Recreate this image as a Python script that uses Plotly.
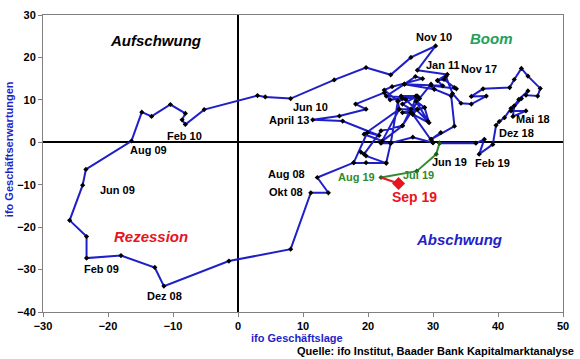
import plotly.graph_objects as go

# ifo Geschäftslage (x) und Geschäftserwartungen (y), Jan 2008 – Sep 2019
lage = [
    31.2, 29.7, 30.0, 26.9, 23.5, 22.8, 17.8, 12.2, 13.9, 11.2, 8.1, -1.4,
    -11.4, -12.8, -18.0, -23.3, -23.3, -25.9, -23.9, -23.4, -16.4, -14.8, -13.3, -10.4,
    -8.1, -8.6, -8.1, -5.2, 3.0, 4.2, 8.1, 14.8, 19.7, 23.5, 26.6, 30.4,
    27.6, 32.2, 30.7, 31.7, 33.3, 33.6, 29.7, 30.2, 32.8, 33.3, 29.7, 30.0,
    26.9, 27.6, 28.7, 26.6, 25.3, 22.0, 19.4, 18.9, 19.7, 22.8, 19.7, 17.8,
    19.9, 21.7, 16.1, 11.5, 15.6, 19.7, 18.1, 22.5, 23.4, 25.3, 27.4, 27.9,
    29.7, 30.2, 25.6, 27.3, 28.4, 23.7, 22.5, 24.6, 24.8, 19.4, 22.2, 25.3,
    26.6, 25.3, 27.6, 25.1, 25.8, 29.2, 27.4, 28.7, 29.4, 26.9, 25.3, 27.6,
    24.8, 22.0, 23.5, 24.6, 27.4, 26.6, 27.9, 22.8, 25.6, 31.5, 30.7, 32.0,
    33.0, 34.3, 35.9, 38.2, 35.9, 37.7, 41.8, 42.5, 43.6, 44.6, 46.5, 46.1,
    44.3, 44.6, 43.2, 42.5, 42.3, 44.3, 42.0, 43.6, 42.0, 41.0, 40.2, 39.7,
    39.2, 37.1, 37.9, 36.6, 31.0, 30.5, 27.5, 22.0, 24.7,
]
erwartungen = [
    2.3, 0.7, -0.1, 1.2, -0.2, -4.9, -4.8, -8.3, -11.9, -11.9, -25.2, -28.0,
    -33.9, -29.5, -26.7, -27.3, -22.2, -18.4, -10.1, -6.4, 0.3, 7.1, 6.1, 8.9,
    6.8, 5.3, 4.2, 7.7, 11.0, 10.7, 10.3, 14.7, 17.6, 15.9, 20.0, 22.7,
    17.0, 16.0, 14.6, 14.8, 12.9, 12.6, 13.4, 12.5, 10.9, 3.8, 0.7, -0.1,
    6.6, 7.8, 8.2, 7.0, 3.9, 2.7, -2.8, -2.3, -3.2, -4.9, -4.8, -4.8,
    2.3, 1.6, 5.0, 5.3, 6.2, 7.8, 9.0, 11.7, 10.0, 10.4, 10.9, 10.3,
    13.7, 12.5, 13.7, 15.5, 15.0, 13.1, 12.3, 9.7, 7.8, 1.9, 0.3, 3.9,
    7.8, 9.0, 10.9, 10.9, 10.1, 5.0, 9.7, 8.2, 4.6, 6.6, 7.0, 7.8,
    7.8, -0.2, -0.2, 9.7, 10.9, 7.0, 10.3, 10.9, 13.7, 13.3, 14.5, 15.5,
    11.5, 9.2, 9.0, 10.9, 10.8, 12.6, 12.9, 14.8, 17.4, 15.6, 12.7, 10.9,
    11.1, 12.1, 10.1, 8.6, 6.1, 7.4, 7.4, 10.3, 8.0, 5.8, 4.9, 4.0,
    -0.5, -2.8, 0.7, -0.2, -0.2, -2.8, -6.8, -8.3, -9.7,
]

x_ticks = [-30, -20, -10, 0, 10, 20, 30, 40, 50]
y_ticks = [-40, -30, -20, -10, 0, 10, 20, 30]

# index of May 2019 (start of green segment) and Aug 2019
i_may19 = len(lage) - 5
i_aug19 = len(lage) - 2

BLUE = "#1f1fc8"
GREEN = "#2e8b2e"
RED = "#e8141e"
FONT = "Arial, Liberation Sans, sans-serif"

fig = go.Figure()
fig.add_trace(go.Scatter(
    x=lage[:i_may19 + 1], y=erwartungen[:i_may19 + 1], mode="lines+markers",
    line=dict(color=BLUE, width=2),
    marker=dict(symbol="diamond", size=4, color="black"),
    hoverinfo="skip", showlegend=False))
fig.add_trace(go.Scatter(
    x=lage[i_may19:i_aug19 + 1], y=erwartungen[i_may19:i_aug19 + 1], mode="lines+markers",
    line=dict(color=GREEN, width=2),
    marker=dict(symbol="diamond", size=4, color="#1a5e1a"),
    hoverinfo="skip", showlegend=False))
fig.add_trace(go.Scatter(
    x=lage[i_aug19:], y=erwartungen[i_aug19:], mode="lines",
    line=dict(color=RED, width=2),
    hoverinfo="skip", showlegend=False))
fig.add_trace(go.Scatter(
    x=[lage[-1]], y=[erwartungen[-1]], mode="markers",
    marker=dict(symbol="diamond", size=10, color=RED),
    hoverinfo="skip", showlegend=False))

labels = [
    ("Nov 10", 30.2, 24.7, "black", 11),
    ("Jan 11", 31.5, 18.1, "black", 11),
    ("Nov 17", 37.1, 17.2, "black", 11),
    ("Jun 10", 11.1, 8.2, "black", 11),
    ("April 13", 7.8, 5.2, "black", 11),
    ("Feb 10", -8.3, 1.6, "black", 11),
    ("Aug 09", -13.8, -1.7, "black", 11),
    ("Jun 09", -18.5, -11.3, "black", 11),
    ("Feb 09", -21.0, -29.9, "black", 11),
    ("Dez 08", -11.3, -36.3, "black", 11),
    ("Aug 08", 7.5, -7.5, "black", 11),
    ("Okt 08", 7.4, -11.8, "black", 11),
    ("Mai 18", 45.4, 5.4, "black", 11),
    ("Dez 18", 42.9, 2.1, "black", 11),
    ("Jun 19", 32.6, -4.7, "black", 11),
    ("Feb 19", 39.1, -4.9, "black", 11),
    ("Aug 19", 18.3, -8.2, GREEN, 11),
    ("Jul 19", 27.7, -7.8, GREEN, 11),
    ("Sep 19", 27.1, -13.0, RED, 14),
]
for txt, lx, ly, col, fs in labels:
    fig.add_annotation(x=lx, y=ly, text=f"<b>{txt}</b>", showarrow=False,
                       font=dict(family=FONT, size=fs, color=col))

phases = [
    ("Aufschwung", -12.7, 24.0, "black"),
    ("Boom", 39.0, 24.5, "#22a05a"),
    ("Rezession", -13.4, -22.2, RED),
    ("Abschwung", 34.0, -22.9, BLUE),
]
for txt, lx, ly, col in phases:
    fig.add_annotation(x=lx, y=ly, text=f"<b><i>{txt}</i></b>", showarrow=False,
                       font=dict(family=FONT, size=15, color=col))

fig.add_annotation(xref="paper", yref="paper", x=0.488, y=-0.0875, xanchor="center", yanchor="middle",
                   text="<b>ifo Geschäftslage</b>", showarrow=False,
                   font=dict(family=FONT, size=11, color=BLUE))
fig.add_annotation(xref="paper", yref="paper", x=-0.065, y=0.549, xanchor="center", yanchor="middle",
                   text="<b>ifo Geschäftserwartungen</b>", showarrow=False, textangle=-90,
                   font=dict(family=FONT, size=11, color=BLUE))
fig.add_annotation(xref="paper", yref="paper", x=1.025, y=-0.131, xanchor="right", yanchor="middle",
                   text="<b>Quelle: ifo Institut, Baader Bank Kapitalmarktanalyse</b>", showarrow=False,
                   font=dict(family=FONT, size=11, color="black"))

axis_common = dict(
    showgrid=False, zeroline=True, zerolinecolor="black", zerolinewidth=2,
    showline=True, linecolor="#808080", linewidth=1, mirror=True,
    ticks="outside", ticklen=4, tickcolor="#808080", automargin=False,
    tickfont=dict(family=FONT, size=11, color="black", weight="bold"),
)
fig.update_xaxes(range=[-30, 50], tickvals=x_ticks, **axis_common)
fig.update_yaxes(range=[-40, 30], tickvals=y_ticks, **axis_common)

fig.update_layout(
    width=580, height=359, autosize=False,
    margin=dict(l=43, r=17, t=15, b=47, pad=0),
    paper_bgcolor="white", plot_bgcolor="white",
    font=dict(family=FONT),
)

fig.write_html("out.html", config={"displayModeBar": False},
               post_script="document.body.style.margin='0';document.body.style.overflow='hidden';")
